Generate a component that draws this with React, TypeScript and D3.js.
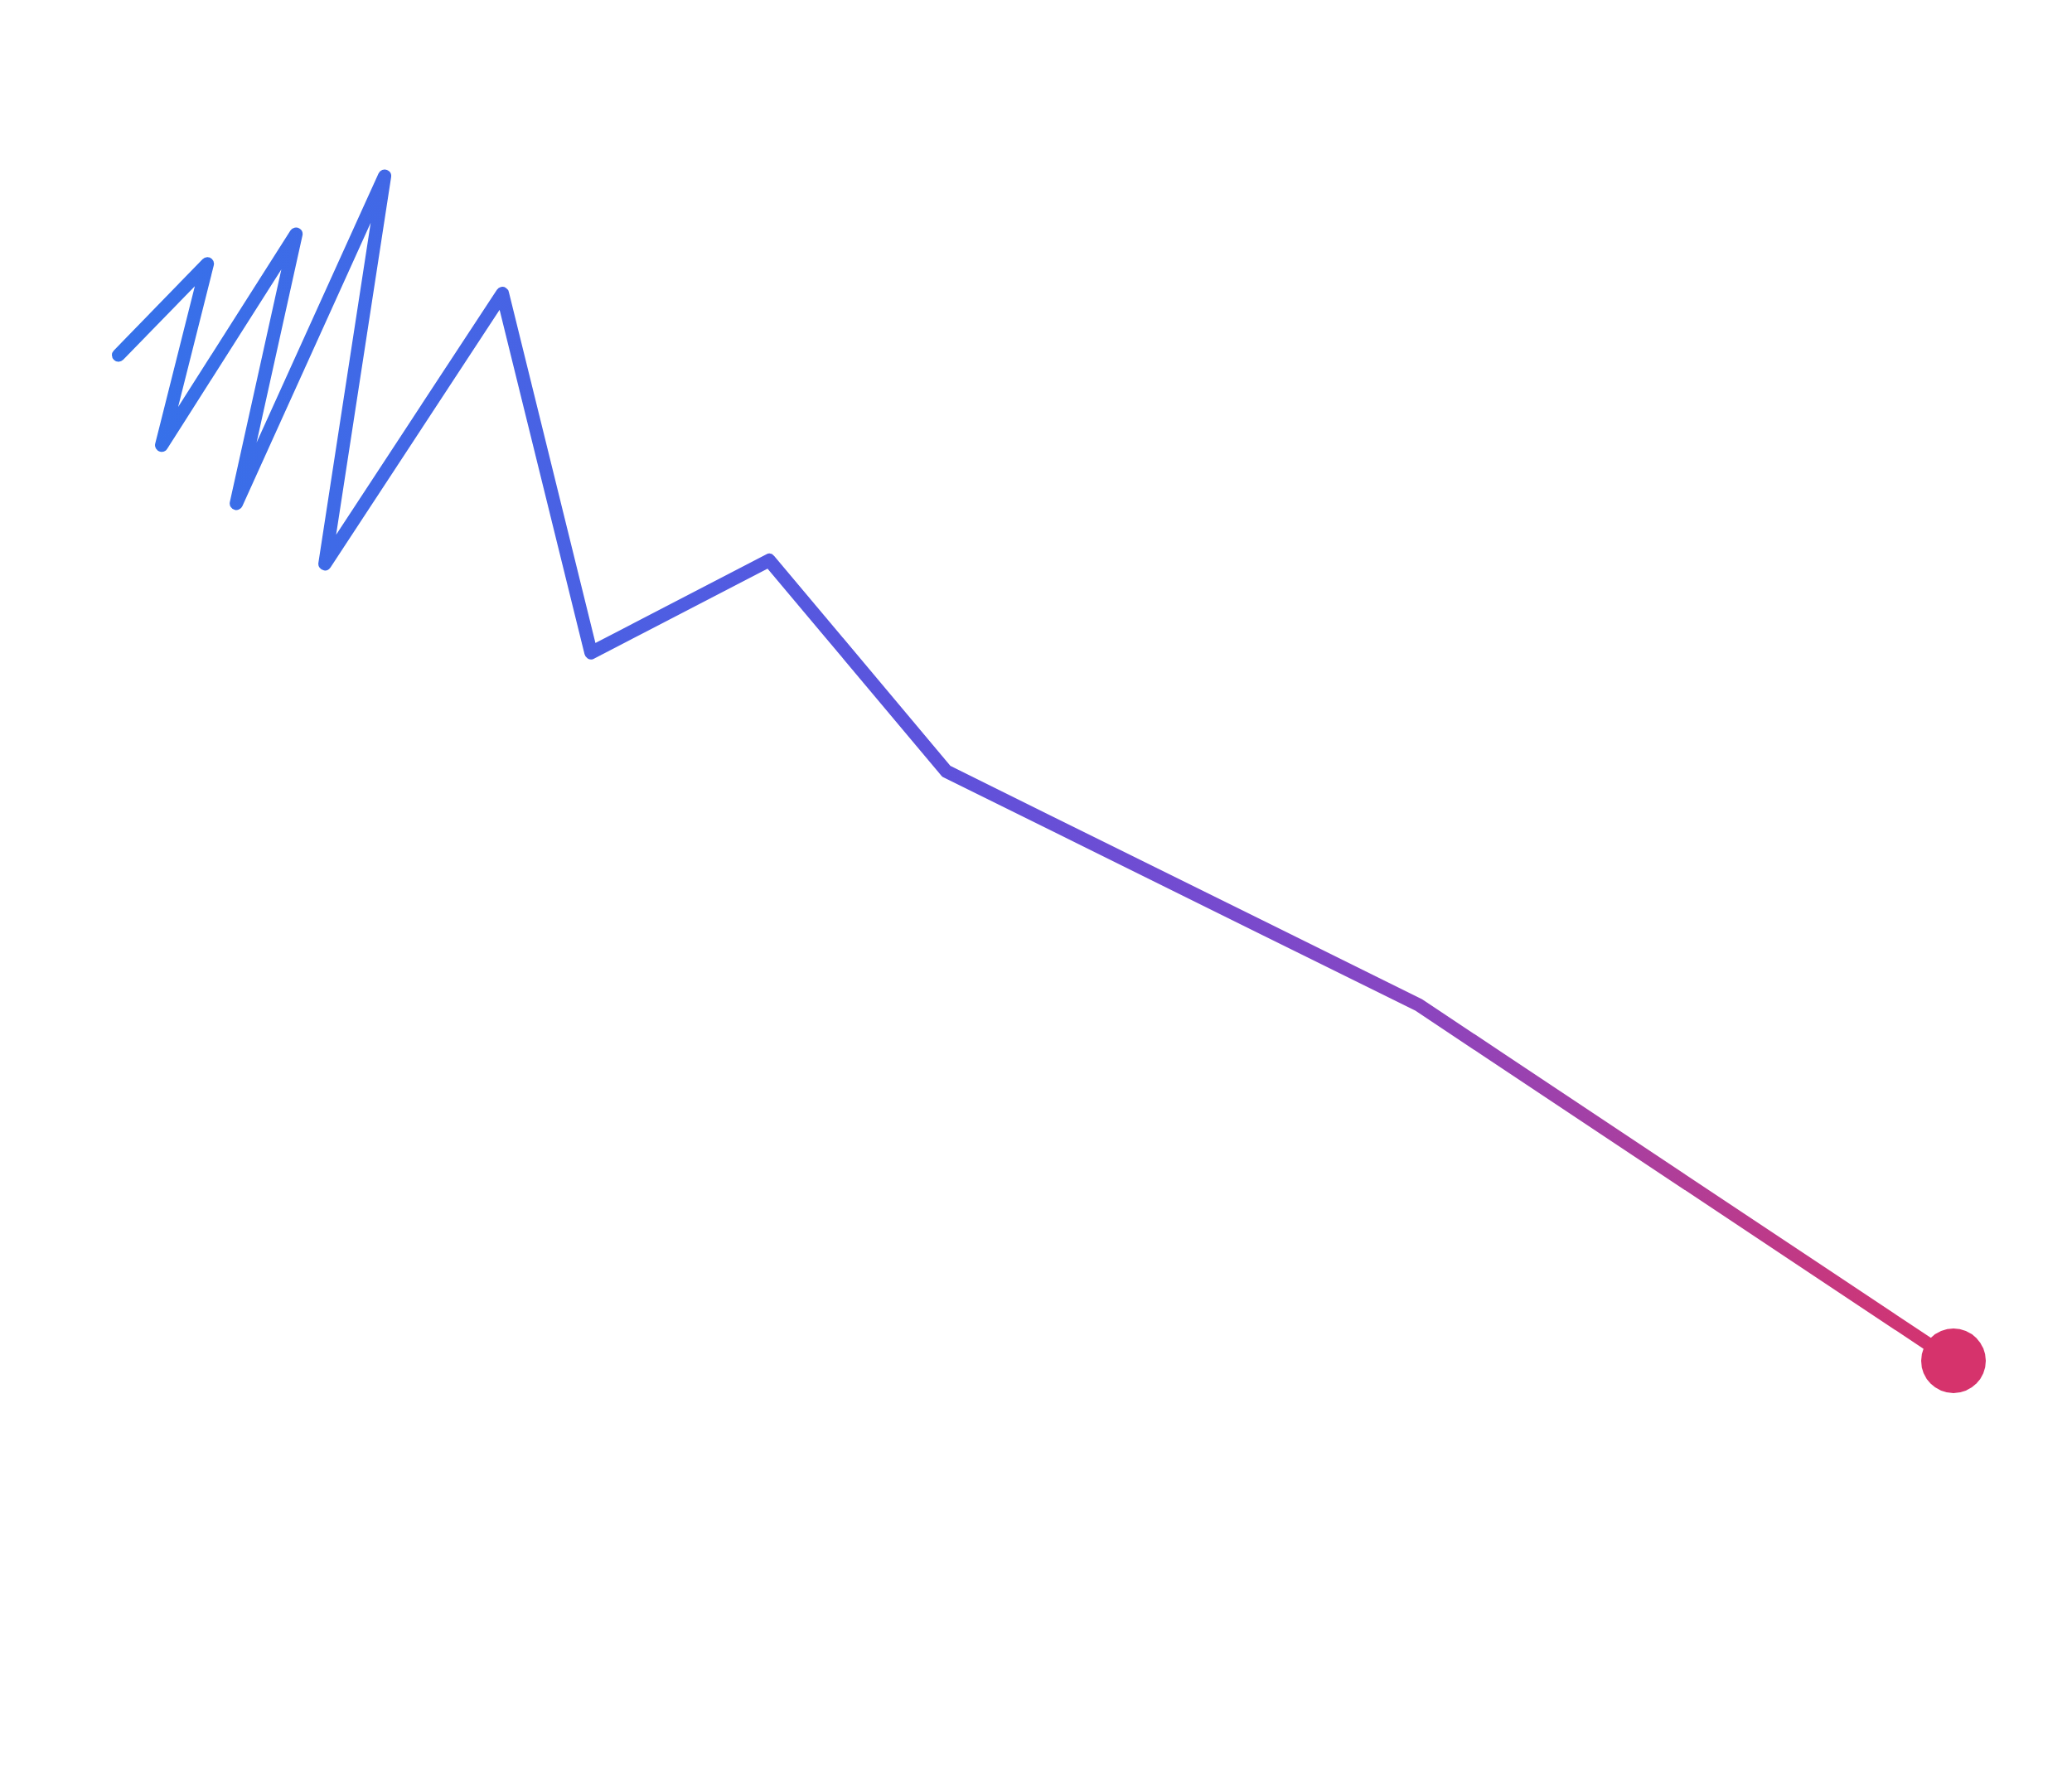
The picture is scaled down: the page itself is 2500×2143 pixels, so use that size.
import { useEffect, useRef } from 'react';
import * as d3 from 'd3';

// path points (arbitrary 0-100 units on both axes)
const xValues = [0, 4.84, 2.35, 9.67, 6.42, 14.5, 11.25, 20.92, 25.75, 35.46, 45.12, 70.86, 100];
const yValues = [84.8, 92.5, 77.2, 95.0, 72.3, 99.9, 67.2, 90.0, 59.7, 67.5, 49.7, 30.0, 0];

const width = 2500;
const height = 2143;

export default function App() {
  const svgRef = useRef<SVGSVGElement>(null);

  useEffect(() => {
    document.body.style.margin = '0';
    if (!svgRef.current) return;

    const svg = d3.select(svgRef.current);
    svg.selectAll('*').remove();

    const x = d3.scaleLinear().domain([0, 100]).range([143, 2357]);
    const y = d3.scaleLinear().domain([0, 100]).range([1642, 211]);

    const points: [number, number][] = xValues.map((v, i) => [v, yValues[i]]);

    // horizontal gradient, blue -> violet -> crimson
    const grad = svg.append('defs')
        .append('linearGradient')
        .attr('id', 'trail')
        .attr('gradientUnits', 'userSpaceOnUse')
        .attr('x1', x(0))
        .attr('x2', x(100))
        .attr('y1', 0)
        .attr('y2', 0);

    const stops = [
      [0, '#3572ea'],
      [0.306, '#4f5de2'],
      [0.451, '#5e52db'],
      [0.586, '#744bd0'],
      [0.709, '#8a45c0'],
      [0.857, '#b23d96'],
      [1, '#d6336c']
    ];
    stops.forEach(([o, c]) => {
      grad.append('stop').attr('offset', o as number).attr('stop-color', c as string);
    });

    const line = d3.line<[number, number]>()
        .x(d => x(d[0]))
        .y(d => y(d[1]));

    svg.append('path')
        .datum(points)
        .attr('d', line)
        .attr('fill', 'none')
        .attr('stroke', 'url(#trail)')
        .attr('stroke-width', 16)
        .attr('stroke-linejoin', 'round')
        .attr('stroke-linecap', 'round');

    // end marker
    const last = points[points.length - 1];
    svg.append('circle')
        .attr('cx', x(last[0]))
        .attr('cy', y(last[1]))
        .attr('r', 39)
        .attr('fill', '#d6336c');
  }, []);

  return (
      <svg ref={svgRef} width={width} height={height} style={{ display: 'block', background: '#fff' }} />
  );
}
